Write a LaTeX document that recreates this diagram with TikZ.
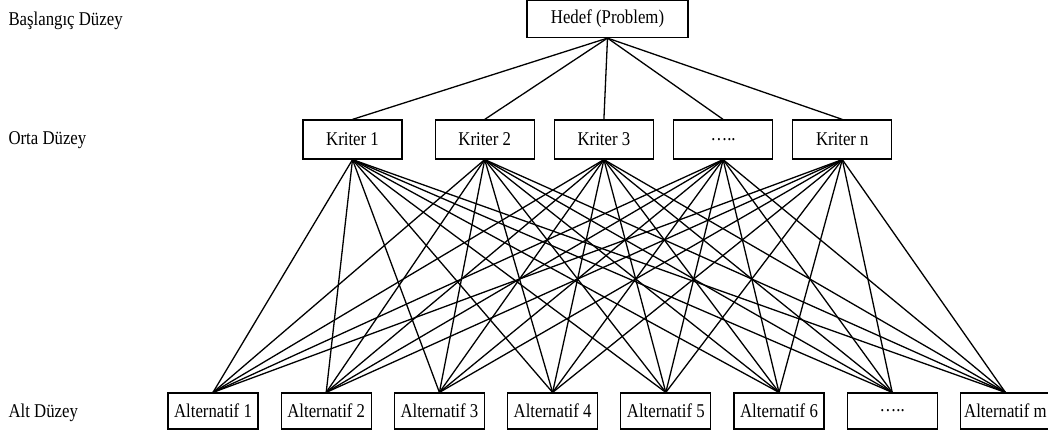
\documentclass[tikz,border=0pt]{standalone}
\usepackage{fontspec}
\setmainfont{Liberation Serif}[FakeStretch=0.86]
\usetikzlibrary{positioning}

\begin{document}
\begin{tikzpicture}[x=1pt, y=-1pt, every node/.style={font=\fontsize{19.5}{22}\selectfont},
  kbox/.style={draw,line width=1.2pt,minimum width=99pt,minimum height=39pt,inner sep=1pt},
  abox/.style={draw,line width=1.2pt,minimum width=90pt,minimum height=36pt,inner sep=1pt},
  link/.style={line width=1.3pt}]
\useasboundingbox (0,0) rectangle (1048,436);
% Levels
\node[anchor=west] (lvltop) at (5,21) {Başlangıç Düzey};
\node[anchor=west] (lvlmid) at (5,140) {Orta Düzey};
\node[anchor=west] (lvlbot) at (5,413) {Alt Düzey};
% Goal
\node[draw,line width=1.2pt,minimum width=161pt,minimum height=37pt] (hedef) at (607.5,19) {Hedef (Problem)};
% Criteria
\node[kbox] (k1) at (352.5,139.5) {Kriter 1};
\node[kbox,right=32pt of k1] (k2) {Kriter 2};
\node[kbox,right=19pt of k2] (k3) {Kriter 3};
\node[kbox,right=19pt of k3] (k4) {…..};
\node[kbox,right=19pt of k4] (k5) {Kriter n};
% Alternatives
\node[abox] (a1) at (213,411) {Alternatif 1};
\node[abox,right=22pt of a1] (a2) {Alternatif 2};
\node[abox,right=22pt of a2] (a3) {Alternatif 3};
\node[abox,right=22pt of a3] (a4) {Alternatif 4};
\node[abox,right=22pt of a4] (a5) {Alternatif 5};
\node[abox,right=22pt of a5] (a6) {Alternatif 6};
\node[abox,right=22pt of a6] (a7) {…..};
\node[abox,right=22pt of a7] (a8) {Alternatif m};
% Links
\foreach \k in {1,...,5}
  \draw[link] (hedef.south) -- (k\k.north);
\foreach \k in {1,...,5}
  \foreach \a in {1,...,8}
    \draw[link] (k\k.south) -- (a\a.north);
\end{tikzpicture}
\end{document}
